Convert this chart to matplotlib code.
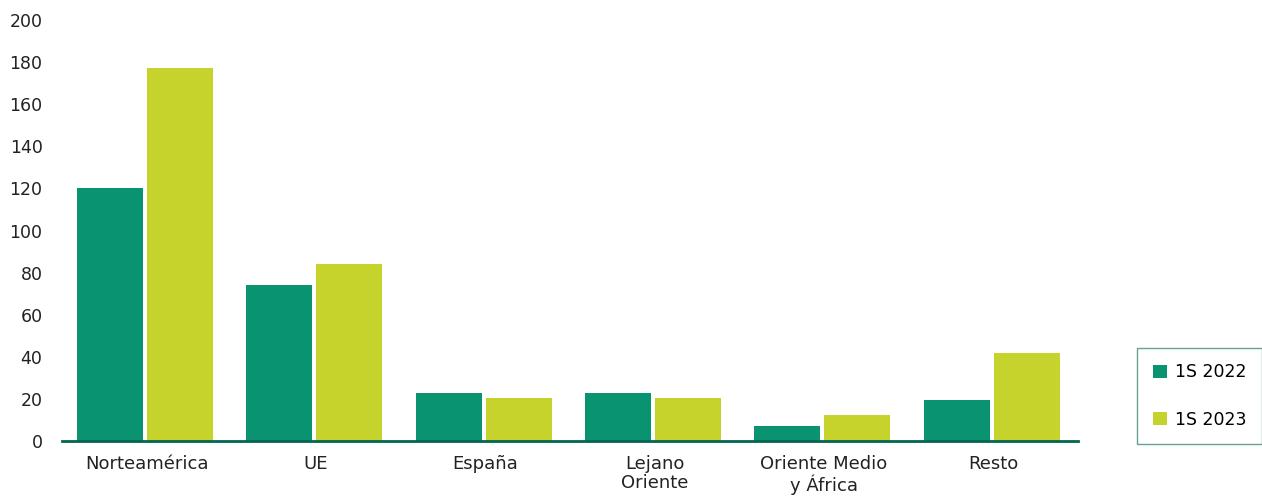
import matplotlib.pyplot as plt
import numpy as np

# Datos
categorias = ["Norteamérica", "UE", "España", "Lejano\nOriente", "Oriente Medio\ny África", "Resto"]
s2022 = [120, 74, 23, 23, 7, 19.5]
s2023 = [177, 84, 20.5, 20.5, 12.5, 42]
series = ["1S 2022", "1S 2023"]

c2022 = "#0A9370"
c2023 = "#C7D32D"
eje = "#00664F"

plt.rcParams["font.family"] = ["DejaVu Sans"]

fig = plt.figure(figsize=(12.62, 4.99), dpi=100)
ax = fig.add_axes([62 / 1262, 58 / 499, 1016 / 1262, 421 / 499])

x = np.arange(len(categorias))
ancho = 0.39
desp = 0.207
ax.bar(x - desp - 0.01, s2022, width=ancho, color=c2022, label=series[0])
ax.bar(x + desp - 0.01, s2023, width=ancho, color=c2023, label=series[1])

ax.set_xlim(-0.5, len(categorias) - 0.5)
ax.set_ylim(0, 200)
ax.set_yticks(range(0, 201, 20))
ax.set_xticks(x)
ax.set_xticklabels(categorias, fontsize=13, color="#222222", linespacing=1.1)
ax.tick_params(axis="y", labelsize=12.5, colors="#222222", length=0, pad=14)
ax.tick_params(axis="x", length=0, pad=10)

for s in ["top", "right", "left"]:
    ax.spines[s].set_visible(False)
ax.spines["bottom"].set_color(eje)
ax.spines["bottom"].set_linewidth(2)

leg = fig.legend(
    loc="center left",
    bbox_to_anchor=(1137 / 1262, (499 - 396) / 499),
    frameon=True,
    fancybox=False,
    fontsize=12.5,
    handlelength=0.8,
    handleheight=0.8,
    handletextpad=0.5,
    labelspacing=1.7,
    borderpad=0.9,
    borderaxespad=0,
)
leg.get_frame().set_edgecolor("#3F8C7A")
leg.get_frame().set_linewidth(1)

plt.savefig("out.png", dpi=100)
plt.close()
